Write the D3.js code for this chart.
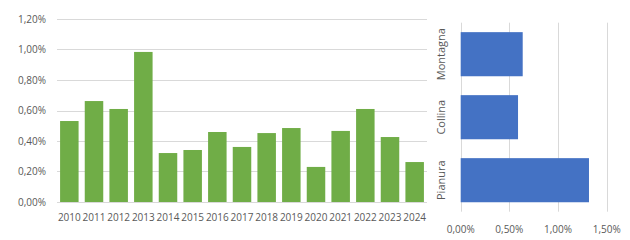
<!DOCTYPE html>
<html>
<head>
<meta charset="utf-8">
<script src="https://cdn.jsdelivr.net/npm/d3@7"></script>
<style>
  body { margin: 0; background: #fff; }
  svg text { font-family: "Open Sans", sans-serif; fill: #595959; }
</style>
</head>
<body>
<div id="chart"></div>
<script>
// Data
const years = ["2010", "2011", "2012", "2013", "2014", "2015", "2016", "2017",
               "2018", "2019", "2020", "2021", "2022", "2023", "2024"];
const yearValues = [0.531, 0.662, 0.610, 0.984, 0.321, 0.341, 0.459, 0.361,
                    0.452, 0.485, 0.230, 0.466, 0.610, 0.426, 0.262];
const yTicks = [0, 0.2, 0.4, 0.6, 0.8, 1.0, 1.2];

const zones = ["Montagna", "Collina", "Pianura"];
const zoneValues = [0.637, 0.589, 1.318];
const xTicks = [0, 0.5, 1.0, 1.5];

const fmt = d => d.toFixed(2).replace(".", ",") + "%";

const width = 630;
const height = 240;

const svg = d3.select("#chart")
    .append("svg")
    .attr("width", width)
    .attr("height", height);

// Left chart: yearly bars
const x1 = d3.scaleBand()
    .domain(years)
    .range([57, 427])
    .paddingInner(0.25)
    .paddingOuter(0.125);

const y1 = d3.scaleLinear()
    .domain([0, 1.2])
    .range([202, 19]);

const left = svg.append("g");

left.append("g")
    .selectAll("line")
    .data(yTicks)
    .enter()
    .append("line")
    .attr("x1", 57)
    .attr("x2", 427)
    .attr("y1", d => Math.round(y1(d)) + 0.5)
    .attr("y2", d => Math.round(y1(d)) + 0.5)
    .attr("stroke", "#d9d9d9")
    .attr("stroke-width", 1);

left.append("g")
    .selectAll("rect")
    .data(years)
    .enter()
    .append("rect")
    .attr("x", d => x1(d))
    .attr("width", x1.bandwidth())
    .attr("y", (d, i) => y1(yearValues[i]))
    .attr("height", (d, i) => y1(0) - y1(yearValues[i]))
    .attr("fill", "#70ad47");

left.append("g")
    .selectAll("text")
    .data(yTicks)
    .enter()
    .append("text")
    .attr("x", 46)
    .attr("y", d => y1(d))
    .attr("dy", "0.35em")
    .attr("text-anchor", "end")
    .attr("font-size", 10)
    .text(fmt);

left.append("g")
    .selectAll("text")
    .data(years)
    .enter()
    .append("text")
    .attr("x", d => x1(d) + x1.bandwidth() / 2)
    .attr("y", 217)
    .attr("dy", "0.35em")
    .attr("text-anchor", "middle")
    .attr("font-size", 10)
    .text(d => d);

// Right chart: zone bars
const x2 = d3.scaleLinear()
    .domain([0, 1.5])
    .range([460.7, 606.7]);

const y2 = d3.scaleBand()
    .domain(zones)
    .range([22.7, 211.7])
    .paddingInner(0.3)
    .paddingOuter(0.15);

const right = svg.append("g");

right.append("g")
    .selectAll("line")
    .data(xTicks)
    .enter()
    .append("line")
    .attr("x1", d => Math.round(x2(d)) + 0.5)
    .attr("x2", d => Math.round(x2(d)) + 0.5)
    .attr("y1", 22.7)
    .attr("y2", 211.7)
    .attr("stroke", "#d9d9d9")
    .attr("stroke-width", 1);

right.append("g")
    .selectAll("rect")
    .data(zones)
    .enter()
    .append("rect")
    .attr("y", d => y2(d))
    .attr("height", y2.bandwidth())
    .attr("x", x2(0))
    .attr("width", (d, i) => x2(zoneValues[i]) - x2(0))
    .attr("fill", "#4472c4");

right.append("g")
    .selectAll("text")
    .data(xTicks)
    .enter()
    .append("text")
    .attr("x", d => x2(d))
    .attr("y", 229)
    .attr("dy", "0.35em")
    .attr("text-anchor", "middle")
    .attr("font-size", 10)
    .text(fmt);

right.append("g")
    .selectAll("text")
    .data(zones)
    .enter()
    .append("text")
    .attr("transform", d => `translate(441,${y2(d) + y2.bandwidth() / 2}) rotate(-90)`)
    .attr("dy", "0.35em")
    .attr("text-anchor", "middle")
    .attr("font-size", 11)
    .text(d => d);
</script>
</body>
</html>
